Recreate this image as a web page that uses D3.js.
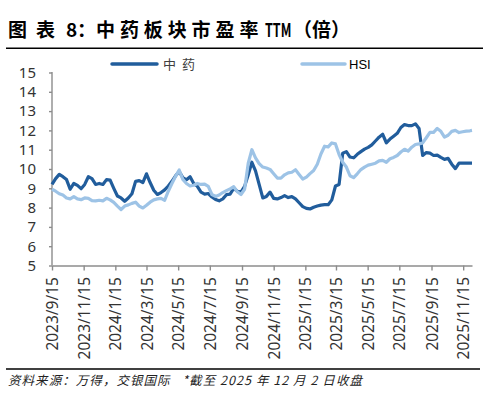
<!DOCTYPE html>
<html lang="zh">
<head>
<meta charset="utf-8" />
<title>中药板块市盈率 TTM</title>
<script src="https://d3js.org/d3.v7.min.js"></script>
<style>
  body { margin: 0; background: #fff; }
  svg { display: block; }
  .axis path, .axis line { stroke: #8c8c8c; stroke-width: 1.4; }
  .axis text { fill: #333; font-family: "Noto Sans", sans-serif; }
  .title { font-family: "Noto Sans CJK SC", sans-serif; font-weight: bold; font-size: 19px; fill: #000; }
</style>
</head>
<body>
<div id="chart"></div>
<script>
// weekly closes, last point 2025/12/2
var dates = [
  "2023-09-15","2023-09-22","2023-09-29","2023-10-06","2023-10-13","2023-10-20","2023-10-27","2023-11-03",
  "2023-11-10","2023-11-17","2023-11-24","2023-12-01","2023-12-08","2023-12-15","2023-12-22","2023-12-29",
  "2024-01-05","2024-01-12","2024-01-19","2024-01-26","2024-02-02","2024-02-09","2024-02-16","2024-02-23",
  "2024-03-01","2024-03-08","2024-03-15","2024-03-22","2024-03-29","2024-04-05","2024-04-12","2024-04-19",
  "2024-04-26","2024-05-03","2024-05-10","2024-05-17","2024-05-24","2024-05-31","2024-06-07","2024-06-14",
  "2024-06-21","2024-06-28","2024-07-05","2024-07-12","2024-07-19","2024-07-26","2024-08-02","2024-08-09",
  "2024-08-16","2024-08-23","2024-08-30","2024-09-06","2024-09-13","2024-09-20","2024-09-27","2024-10-04",
  "2024-10-11","2024-10-18","2024-10-25","2024-11-01","2024-11-08","2024-11-15","2024-11-22","2024-11-29",
  "2024-12-06","2024-12-13","2024-12-20","2024-12-27","2025-01-03","2025-01-10","2025-01-17","2025-01-24",
  "2025-01-31","2025-02-07","2025-02-14","2025-02-21","2025-02-28","2025-03-07","2025-03-14","2025-03-21",
  "2025-03-28","2025-04-04","2025-04-11","2025-04-18","2025-04-25","2025-05-02","2025-05-09","2025-05-16",
  "2025-05-23","2025-05-30","2025-06-06","2025-06-13","2025-06-20","2025-06-27","2025-07-04","2025-07-11",
  "2025-07-18","2025-07-25","2025-08-01","2025-08-08","2025-08-15","2025-08-22","2025-08-29","2025-09-05",
  "2025-09-12","2025-09-19","2025-09-26","2025-10-03","2025-10-10","2025-10-17","2025-10-24","2025-10-31",
  "2025-11-07","2025-11-14","2025-11-21","2025-11-28","2025-12-02"
];

var tcm = [
  9.2, 9.5, 9.72, 9.6, 9.45, 8.95, 9.25, 9.15, 8.98, 9.2, 9.6, 9.5, 9.2, 9.25, 9.2, 9.45,
  9.42, 9.0, 8.6, 8.5, 8.33, 8.5, 8.72, 9.36, 9.4, 9.3, 9.75, 9.3, 8.9, 8.68, 8.78, 8.92,
  9.12, 9.36, 9.65, 9.87, 9.55, 9.44, 9.6, 9.25, 9.1, 8.8, 8.7, 8.73, 8.55, 8.42, 8.35, 8.45,
  8.67, 8.7, 9.0, 8.85, 8.8, 9.1, 9.7, 10.35, 9.9, 9.2, 8.5, 8.58, 8.8, 8.48, 8.45, 8.52,
  8.62, 8.52, 8.57, 8.45, 8.25, 8.05, 7.96, 7.93, 8.02, 8.08, 8.13, 8.15, 8.15, 8.4, 9.12, 9.2,
  10.82, 10.9, 10.62, 10.58, 10.76, 10.9, 11.03, 11.12, 11.25, 11.45, 11.65, 11.8, 11.36, 11.55, 11.7, 11.85,
  12.15, 12.3, 12.25, 12.25, 12.34, 12.1, 10.7, 10.85, 10.82, 10.7, 10.72, 10.6, 10.5, 10.55, 10.25, 10.02,
  10.3, 10.3, 10.3, 10.3, 10.3
];

var hsi = [
  8.95, 8.85, 8.72, 8.65, 8.5, 8.45, 8.57, 8.45, 8.41, 8.5, 8.48, 8.36, 8.35, 8.38, 8.35, 8.48,
  8.4, 8.27, 8.08, 7.9, 8.08, 8.14, 8.22, 8.28, 8.08, 7.98, 8.12, 8.28, 8.4, 8.45, 8.48, 8.38,
  8.85, 9.25, 9.62, 9.95, 9.46, 9.25, 9.12, 9.16, 9.25, 9.2, 9.22, 9.1, 8.68, 8.58, 8.65, 8.78,
  8.88, 8.97, 9.08, 8.82, 8.68, 8.95, 10.3, 11.0, 10.58, 10.28, 10.1, 10.05, 9.98, 9.75, 9.53, 9.53,
  9.7, 9.8, 9.83, 9.96, 9.72, 9.48, 9.58, 9.76, 9.92, 10.25, 10.78, 11.18, 11.15, 11.35, 11.3, 10.75,
  10.35, 10.1, 9.65, 9.55, 9.75, 9.97, 10.1, 10.2, 10.25, 10.3, 10.42, 10.45, 10.35, 10.53, 10.6, 10.7,
  10.88, 11.02, 10.93, 11.13, 11.27, 11.3, 11.35, 11.62, 11.9, 11.9, 12.1, 11.95, 11.65, 11.75, 11.95, 12.0,
  11.89, 11.93, 11.96, 11.98, 12.0
];

var xTicks = [
  "2023/9/15","2023/11/15","2024/1/15","2024/3/15","2024/5/15","2024/7/15","2024/9/15",
  "2024/11/15","2025/1/15","2025/3/15","2025/5/15","2025/7/15","2025/9/15","2025/11/15"
];
var yTicks = [5, 6, 7, 8, 9, 10, 11, 12, 13, 14, 15];

var seriesNames = ["中药", "HSI"];
var seriesColors = ["#215d9c", "#9dc3e6"];

var width = 488,
    height = 403;

var parse = d3.timeParse("%Y-%m-%d"),
    parseTick = d3.timeParse("%Y/%m/%d");

var svg = d3.select("#chart")
            .append("svg")
            .attr("width", width)
            .attr("height", height);

var x = d3.scaleTime()
          .domain([parse(dates[0]), parse(dates[dates.length - 1])])
          .range([52, 472]);
var y = d3.scaleLinear()
          .domain([5, 15])
          .range([265.5, 72.5]);

// title, pieces spaced like the original
var title = svg.append("text")
               .attr("class", "title")
               .attr("y", 37);
[
  {t: "图", x: 8}, {t: "表", x: 36}, {t: "8", x: 66}, {t: "：", x: 77},
  {t: "中药板块市盈率", x: 96, ls: 4.9}
].forEach(function(p) {
  var ts = title.append("tspan").attr("x", p.x).text(p.t);
  if (p.ls) ts.style("letter-spacing", p.ls + "px");
});
// narrow latin as in the source font
svg.append("text")
   .attr("class", "title")
   .attr("transform", "translate(265,37) scale(0.66,1)")
   .text("TTM");
svg.append("text")
   .attr("class", "title")
   .attr("x", 293).attr("y", 37)
   .text("（倍）");

svg.append("line")
   .attr("x1", 6).attr("x2", 483).attr("y1", 48.3).attr("y2", 48.3)
   .attr("stroke", "#000").attr("stroke-width", 1.4);

// axes
var yAxis = d3.axisLeft(y)
              .tickValues(yTicks)
              .tickSize(3)
              .tickPadding(13)
              .tickFormat(d3.format("d"));
svg.append("g")
   .attr("class", "axis")
   .attr("transform", "translate(52,0)")
   .call(yAxis)
   .call(function(g) { g.select(".domain").attr("d", "M0," + y(5) + "V" + (y(15) - 0.5)); })
   .selectAll("text")
   .style("font-size", "15px");

var xAxis = d3.axisBottom(x)
              .tickValues(xTicks.map(function(d) { return parseTick(d); }))
              .tickSize(5)
              .tickSizeOuter(0)
              .tickFormat(function(d, i) { return xTicks[i]; });
var gx = svg.append("g")
            .attr("class", "axis")
            .attr("transform", "translate(0," + y(5) + ")")
            .call(xAxis);
gx.selectAll("text")
  .attr("transform", "rotate(-90)")
  .attr("text-anchor", "end")
  .attr("x", -11.5)
  .attr("y", 0)
  .attr("dy", "0.36em")
  .style("font-size", "15.5px");

// lines
var data = dates.map(function(d, i) {
  return {date: parse(d), values: [tcm[i], hsi[i]]};
});

[0, 1].forEach(function(k) {
  var line = d3.line()
               .x(function(d) { return x(d.date); })
               .y(function(d) { return y(d.values[k]); });
  svg.append("path")
     .datum(data)
     .attr("d", line)
     .attr("fill", "none")
     .attr("stroke", seriesColors[k])
     .attr("stroke-width", 3.2)
     .attr("stroke-linejoin", "round");
});

// legend
var legend = [
  {x1: 112, x2: 157, tx: 163, font: "'Noto Sans CJK SC', sans-serif", ls: 6, fill: "#404040"},
  {x1: 302, x2: 345, tx: 349, font: "'Liberation Sans', sans-serif", ls: 0, fill: "#000"}
];
legend.forEach(function(l, k) {
  svg.append("line")
     .attr("x1", l.x1).attr("x2", l.x2)
     .attr("y1", 64).attr("y2", 64)
     .attr("stroke", seriesColors[k])
     .attr("stroke-width", 3.5)
     .attr("stroke-linecap", "round");
  svg.append("text")
     .attr("x", l.tx).attr("y", 69)
     .style("font-family", l.font)
     .style("font-size", "13px")
     .style("letter-spacing", l.ls + "px")
     .style("fill", l.fill)
     .text(seriesNames[k]);
});

// source note
svg.append("line")
   .attr("x1", 6).attr("x2", 480).attr("y1", 369).attr("y2", 369)
   .attr("stroke", "#000").attr("stroke-width", 1.4);

svg.append("text")
   .attr("x", 8).attr("y", 385)
   .attr("textLength", 354)
   .attr("lengthAdjust", "spacing")
   .style("white-space", "pre")
   .style("font-family", "'Noto Sans CJK SC', sans-serif")
   .style("font-style", "italic")
   .style("font-size", "12.5px")
   .style("fill", "#222")
   .text("资料来源：万得，交银国际   *截至 2025 年 12 月 2 日收盘");
</script>
</body>
</html>
